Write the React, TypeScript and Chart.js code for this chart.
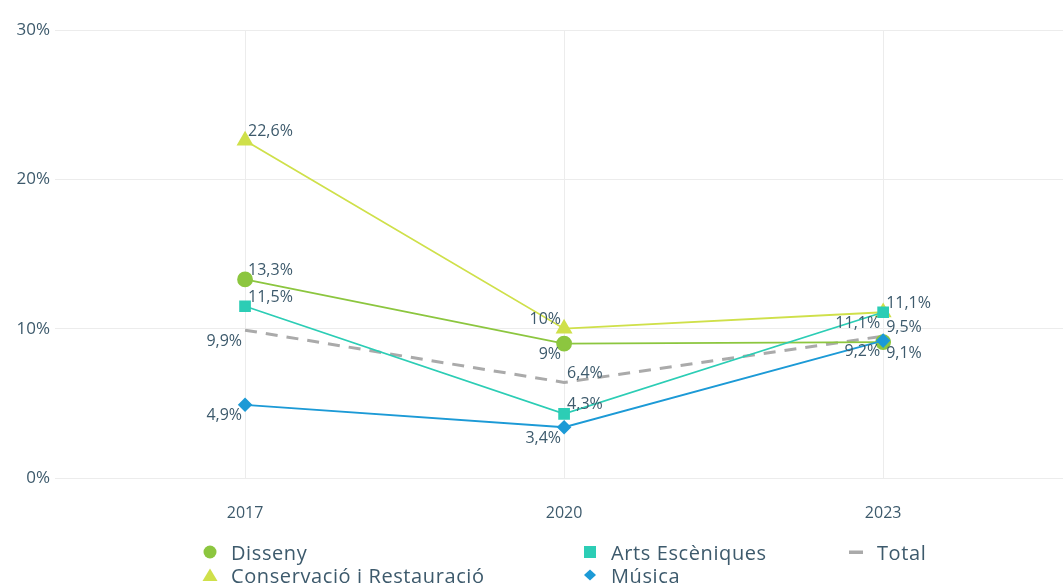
import React, { useEffect, useRef } from "react";
import { Chart, registerables } from "chart.js";

Chart.register(...registerables);

const years = [2017, 2020, 2023];
const yTicks = [0, 10, 20, 30];

const seriesNames = ["Disseny", "Conservació i Restauració", "Arts Escèniques", "Música", "Total"];
const disseny = [13.3, 9, 9.1];
const conservacio = [22.6, 10, 11.1];
const artsEsceniques = [11.5, 4.3, 11.1];
const musica = [4.9, 3.4, 9.2];
const total = [9.9, 6.4, 9.5];

// label placement per point: r/l = right/left, a/b = above/below
const dissenyPos = ["ra", "lb", "rb"];
const conservacioPos = ["ra", "la", "lb"];
const artsPos = ["ra", "ra", "ra"];
const musicaPos = ["lb", "lb", "lb"];
const totalPos = ["lb", "ra", "ra"];

const TEXT = "#3d5a6c";
const FONT = "'Open Sans', 'Noto Sans', sans-serif";

const colors = ["#8cc63f", "#cfe04a", "#2ccdb5", "#1c9ad6", "#aaaaaa"];

const fmt = (v: number) => String(v).replace(".", ",") + "%";

const labelPlugin = {
  id: "pointLabels",
  afterDatasetsDraw(chart: any) {
    const ctx = chart.ctx;
    ctx.save();
    ctx.font = `16px ${FONT}`;
    ctx.fillStyle = TEXT;
    ctx.textBaseline = "middle";
    chart.data.datasets.forEach((ds: any, di: number) => {
      const meta = chart.getDatasetMeta(di);
      meta.data.forEach((el: any, i: number) => {
        const pos: string = ds.labelPos[i];
        const v = ds.data[i].y;
        const dx = pos[0] === "r" ? 3 : -3;
        const dy = pos[1] === "a" ? -9 : 11;
        ctx.textAlign = pos[0] === "r" ? "left" : "right";
        ctx.fillText(fmt(v), el.x + dx, el.y + dy);
      });
    });
    ctx.restore();
  },
};

function LegendMarker({ kind, color }: { kind: string; color: string }) {
  return (
    <svg width="18" height="14" viewBox="0 0 18 14" style={{ display: "block" }}>
      {kind === "circle" && <circle cx="9" cy="7" r="6.5" fill={color} />}
      {kind === "triangle" && <polygon points="9,0.5 16.5,13 1.5,13" fill={color} />}
      {kind === "rect" && <rect x="3" y="1" width="12" height="12" fill={color} />}
      {kind === "rectRot" && <polygon points="9,1.5 15,7 9,12.5 3,7" fill={color} />}
      {kind === "line" && <rect x="2" y="5.5" width="14" height="3.5" fill={color} />}
    </svg>
  );
}

export default function App() {
  const canvasRef = useRef<HTMLCanvasElement | null>(null);

  useEffect(() => {
    if (!canvasRef.current) return;
    const mk = (arr: number[]) => arr.map((v, i) => ({ x: years[i], y: v }));
    const chart = new Chart(canvasRef.current, {
      type: "line",
      data: {
        datasets: [
          { label: seriesNames[0], data: mk(disseny), order: 4, borderColor: colors[0], backgroundColor: colors[0], pointStyle: "circle", pointRadius: 7, borderWidth: 1.8, labelPos: dissenyPos } as any,
          { label: seriesNames[1], data: mk(conservacio), order: 3, borderColor: colors[1], backgroundColor: colors[1], pointStyle: "triangle", pointRadius: 8, borderWidth: 1.8, labelPos: conservacioPos } as any,
          { label: seriesNames[2], data: mk(artsEsceniques), order: 2, borderColor: colors[2], backgroundColor: colors[2], pointStyle: "rect", pointRadius: 7, borderWidth: 1.8, labelPos: artsPos } as any,
          { label: seriesNames[3], data: mk(musica), order: 1, borderColor: colors[3], backgroundColor: colors[3], pointStyle: "rectRot", pointRadius: 6, borderWidth: 1.8, labelPos: musicaPos } as any,
          { label: seriesNames[4], data: mk(total), order: 5, borderColor: colors[4], backgroundColor: colors[4], pointRadius: 0, borderWidth: 3, borderDash: [12, 9], labelPos: totalPos } as any,
        ],
      },
      options: {
        animation: false,
        responsive: false,
        maintainAspectRatio: false,
        layout: { padding: { top: 30, right: 0, bottom: 57, left: 0 } },
        plugins: { legend: { display: false }, tooltip: { enabled: false } },
        scales: {
          x: {
            type: "linear",
            min: 2015.213,
            max: 2024.693,
            border: { display: false },
            grid: { color: "#ececec", drawTicks: false, lineWidth: 1 },
            afterBuildTicks: (scale: any) => {
              scale.ticks = years.map((y) => ({ value: y }));
            },
            afterFit: (scale: any) => {
              scale.height = 50;
            },
            ticks: {
              color: TEXT,
              font: { family: FONT, size: 16 },
              padding: 26,
              callback: (v: any) => String(v),
            },
          },
          y: {
            min: 0,
            max: 30,
            border: { display: false },
            grid: { color: "#ececec", drawTicks: false, lineWidth: 1 },
            afterBuildTicks: (scale: any) => {
              scale.ticks = yTicks.map((v) => ({ value: v }));
            },
            afterFit: (scale: any) => {
              scale.width = 55;
            },
            ticks: {
              color: TEXT,
              font: { family: FONT, size: 17 },
              padding: 5,
              callback: (v: any) => v + "%",
            },
          },
        },
      } as any,
      plugins: [labelPlugin],
    });
    return () => chart.destroy();
  }, []);

  const legendItems = [
    { name: seriesNames[0], kind: "circle", color: colors[0], left: 201, top: 541 },
    { name: seriesNames[1], kind: "triangle", color: colors[1], left: 201, top: 564 },
    { name: seriesNames[2], kind: "rect", color: colors[2], left: 581, top: 541 },
    { name: seriesNames[3], kind: "rectRot", color: colors[3], left: 581, top: 564 },
    { name: seriesNames[4], kind: "line", color: colors[4], left: 847, top: 541 },
  ];

  return (
    <div style={{ position: "fixed", left: 0, top: 0, width: 1063, height: 585, background: "#fff", overflow: "hidden" }}>
      <canvas ref={canvasRef} width={1073} height={585} style={{ display: "block" }} />
      {legendItems.map((it) => (
        <div
          key={it.name}
          style={{
            position: "absolute",
            left: it.left,
            top: it.top,
            height: 22,
            display: "flex",
            alignItems: "center",
            gap: 12,
            fontFamily: FONT,
            fontSize: 20,
            letterSpacing: 0.6,
            color: TEXT,
            whiteSpace: "nowrap",
          }}
        >
          <LegendMarker kind={it.kind} color={it.color} />
          <span>{it.name}</span>
        </div>
      ))}
    </div>
  );
}
